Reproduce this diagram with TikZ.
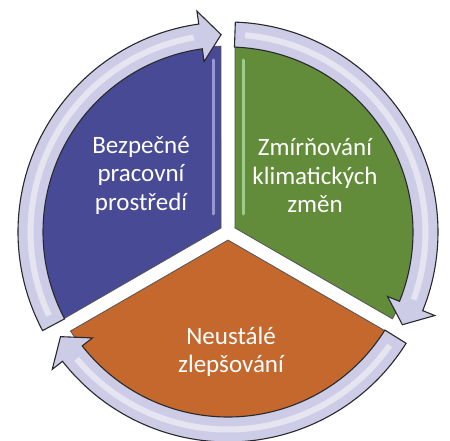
\documentclass[tikz,border=0pt]{standalone}
\usepackage{fontspec}
\setmainfont{Carlito}
\definecolor{secblue}{RGB}{72,74,150}
\definecolor{secgreen}{RGB}{98,140,58}
\definecolor{secorange}{RGB}{196,104,46}
\definecolor{ringfill}{RGB}{204,204,230}
\definecolor{ringline}{RGB}{40,40,45}
\begin{document}
\begin{tikzpicture}[x=1pt,y=1pt,
  sector/.style={draw=ringline!80, line width=0.8pt},
  ringarrow/.style={fill=ringfill, draw=ringline, line width=1.1pt, line join=miter},
  shine/.style={white, line width=6pt, opacity=0.5},
  gloss/.style={line width=3pt, opacity=0.55, line cap=round},
  sectext/.style={text=white, align=center, font=\fontsize{25}{28.5}\selectfont}]
\useasboundingbox (0,0) rectangle (450,440);
\begin{scope}[shift={(228,208)}]
  % sectors
  \path[sector, fill=secblue] (150:8.08) -- (92.16:186) arc[start angle=92.16, end angle=207.84, radius=186] -- cycle;
  \path[sector, fill=secgreen] (30:8.08) -- (-27.84:186) arc[start angle=-27.84, end angle=87.84, radius=186] -- cycle;
  \path[sector, fill=secorange] (270:8.08) -- (212.16:186) arc[start angle=212.16, end angle=327.84, radius=186] -- cycle;
  % glass highlights
  \draw[gloss, color=blue!15!white] (-15,18) -- (-15,172);
  \draw[gloss, color=green!20!white] (15,18) -- (15,172);
  % ring arrows
  \foreach \t in {208,88,-32}{
    \pgfmathsetmacro{\hb}{\t-110}
    \pgfmathsetmacro{\tp}{\t-116}
    \path[ringarrow] (\t:210) arc[start angle=\t, end angle=\hb, radius=210]
      -- (\hb:223) -- (\tp:197.5) -- (\hb:172) -- (\hb:185)
      arc[start angle=\hb, end angle=\t, radius=185] -- cycle;
    \draw[shine] (\t-3:197.5) arc[start angle=\t-3, end angle=\hb+2, radius=197.5];
  }
\end{scope}
\node[sectext] (safe) at (141,265) {Bezpečné\\pracovní\\prostředí};
\node[sectext] (climate) at (315,264) {Zmírňování\\klimatických\\změn};
\node[sectext] (improve) at (231,88) {Neustálé\\zlepšování};
\end{tikzpicture}
\end{document}
